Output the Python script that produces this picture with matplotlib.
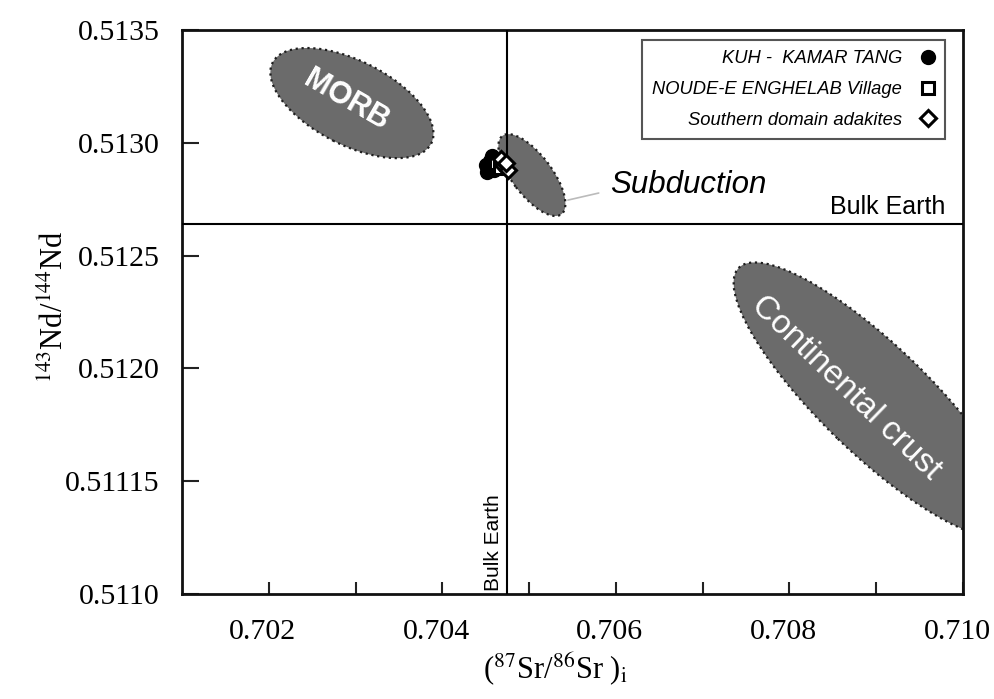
import matplotlib
matplotlib.use("Agg")
import matplotlib.pyplot as plt
import matplotlib.transforms as mtransforms
from matplotlib.patches import Ellipse
from matplotlib.ticker import FixedLocator, FixedFormatter

# Sample data
kuh_sr = [0.70450, 0.70455, 0.70460, 0.70457, 0.70463, 0.70452]
kuh_nd = [0.51290, 0.51292, 0.51288, 0.51294, 0.51290, 0.51287]
noude_sr = [0.70462, 0.70467]
noude_nd = [0.51291, 0.51289]
south_sr = [0.70470, 0.70476, 0.70468, 0.70473]
south_nd = [0.51290, 0.51288, 0.51293, 0.51291]

# Bulk Earth reference values
bulk_sr = 0.70475
bulk_nd = 0.512638

# Reservoir fields: name, centre (data), semi-axes and tilt in screen pixels
fields = [
    ("MORB", (0.702958, 0.513176), 89, 42, -27),
    ("Subduction", (0.705032, 0.512857), 49, 20, -53),
    ("Continental crust", (0.708990, 0.511860), 190, 54, -44),
]

x_ticks = [0.702, 0.704, 0.706, 0.708, 0.710]
x_minor = [0.703, 0.705, 0.707, 0.709]
y_ticks = [0.5110, 0.5115, 0.5120, 0.5125, 0.5130, 0.5135]
y_labels = ["0.5110", "0.51115", "0.5120", "0.5125", "0.5130", "0.5135"]

plt.rcParams["mathtext.fontset"] = "stix"

fig = plt.figure(figsize=(9.94, 6.99), dpi=100)
ax = fig.add_axes([0.1831, 0.1502, 0.7857, 0.8069])
ax.set_xlim(0.701, 0.710)
ax.set_ylim(0.5110, 0.5135)

for name, (cx, cy), a, b, ang in fields:
    trans = fig.dpi_scale_trans + mtransforms.ScaledTranslation(cx, cy, ax.transData)
    e = Ellipse((0, 0), 2 * a / 100, 2 * b / 100, angle=ang, transform=trans,
                facecolor="#6b6b6b", edgecolor="#1e1e1e", linestyle=":", linewidth=1.6,
                zorder=2)
    ax.add_patch(e)

ax.axhline(bulk_nd, color="black", lw=1.5, zorder=3)
ax.axvline(bulk_sr, color="black", lw=1.5, zorder=3)

ax.plot(kuh_sr, kuh_nd, "o", color="black", markersize=10, zorder=5,
        label="KUH -  KAMAR TANG")
ax.plot(noude_sr, noude_nd, "s", markerfacecolor="white", markeredgecolor="black",
        markeredgewidth=2.2, markersize=8, zorder=5, label="NOUDE-E ENGHELAB Village")
ax.plot(south_sr, south_nd, "D", markerfacecolor="white", markeredgecolor="black",
        markeredgewidth=2.2, markersize=8, zorder=5, label="Southern domain adakites")

# field labels
ax.annotate("MORB", xy=(fields[0][1]), xytext=(-4, 2), textcoords="offset points",
            ha="center", va="center", rotation=-30, color="white", fontsize=22,
            fontweight="bold", family="Liberation Sans", zorder=6)
ax.annotate("Continental crust", xy=(fields[2][1]), xytext=(-21, 9),
            textcoords="offset points", ha="center", va="center", rotation=-44,
            color="white", fontsize=24, family="Liberation Sans", zorder=6)
ax.annotate("Subduction", xy=(0.705447, 0.512746), xytext=(0.706829, 0.512815),
            ha="center", va="center", fontsize=22.5, style="italic",
            family="Liberation Sans", zorder=6,
            arrowprops=dict(arrowstyle="-", color="#bbbbbb", lw=1.2, shrinkB=0,
                            shrinkA=6, relpos=(0.0, 0.3)))
ax.annotate("Bulk Earth", xy=(0.7100, bulk_nd), xytext=(-13, 4),
            textcoords="offset points", ha="right", va="bottom", fontsize=18,
            family="Liberation Sans", zorder=6)
ax.annotate("Bulk Earth", xy=(bulk_sr, 0.5110), xytext=(-3, 2),
            textcoords="offset points", ha="right", va="bottom", rotation=90,
            fontsize=15, family="Liberation Sans", zorder=6)

ax.xaxis.set_major_locator(FixedLocator(x_ticks))
ax.xaxis.set_minor_locator(FixedLocator(x_minor))
ax.set_xticklabels(["%.3f" % v for v in x_ticks])
ax.yaxis.set_major_locator(FixedLocator(y_ticks))
ax.yaxis.set_major_formatter(FixedFormatter(y_labels))

ax.tick_params(axis="both", which="both", direction="in", top=False, right=False,
               width=1.5, color="#222222")
ax.tick_params(axis="x", which="both", length=9, pad=18)
ax.tick_params(axis="y", which="major", length=12, pad=16)
shift = mtransforms.ScaledTranslation(-6 / 100, 0, fig.dpi_scale_trans)
for lab in ax.get_xticklabels():
    lab.set_family("Liberation Serif")
    lab.set_fontsize(21.5)
    lab.set_transform(lab.get_transform() + shift)
for lab in ax.get_yticklabels():
    lab.set_family("Liberation Serif")
    lab.set_fontsize(21.5)
for sp in ax.spines.values():
    sp.set_linewidth(2)
    sp.set_color("#111111")

ax.set_xlabel(r"($^{87}$Sr/$^{86}$Sr )$_{\rm i}$", fontsize=22, family="Liberation Serif")
ax.set_ylabel(r"$^{143}$Nd/$^{144}$Nd", fontsize=22, family="Liberation Serif")
ax.xaxis.set_label_coords(0.478, -0.1)
ax.yaxis.set_label_coords(-0.144, 0.51)

leg = ax.legend(loc="upper right", bbox_to_anchor=(0.977, 0.982), borderaxespad=0,
                markerfirst=False, handlelength=0.8, handletextpad=1.0,
                fancybox=False, framealpha=1, edgecolor="#555555",
                prop={"family": "Liberation Sans", "style": "italic", "size": 13.2},
                borderpad=0.55, labelspacing=0.75)
leg.get_frame().set_linewidth(1.5)

fig.savefig("out.png", dpi=100)
